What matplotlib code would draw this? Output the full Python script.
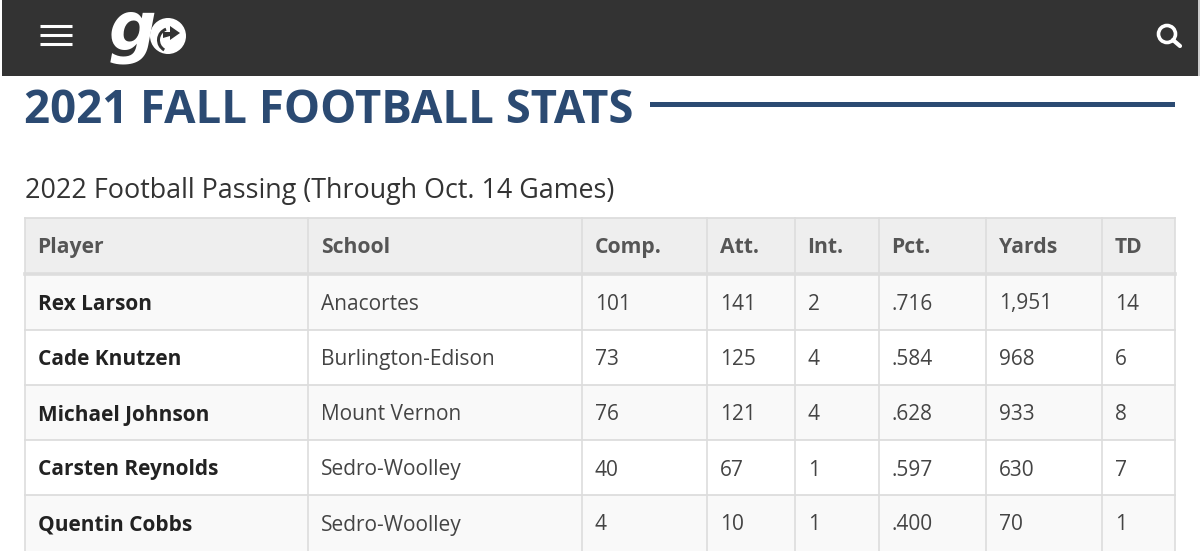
import matplotlib
matplotlib.use("Agg")
import matplotlib.pyplot as plt
from matplotlib.patches import Rectangle, Circle, Wedge, Polygon

plt.rcParams['font.family'] = ['Open Sans', 'DejaVu Sans']

headers = ["Player", "School", "Comp.", "Att.", "Int.", "Pct.", "Yards", "TD"]
players = ["Rex Larson", "Cade Knutzen", "Michael Johnson", "Carsten Reynolds", "Quentin Cobbs"]
schools = ["Anacortes", "Burlington-Edison", "Mount Vernon", "Sedro-Woolley", "Sedro-Woolley"]
comp = ["101", "73", "76", "40", "4"]
att = ["141", "125", "121", "67", "10"]
ints = ["2", "4", "4", "1", "1"]
pct = [".716", ".584", ".628", ".597", ".400"]
yards = ["1,951", "968", "933", "630", "70"]
td = ["14", "6", "8", "7", "1"]
title = "2021 FALL FOOTBALL STATS"
subtitle = "2022 Football Passing (Through Oct. 14 Games)"

col_x = [25, 308, 582, 707, 795, 879, 986, 1102, 1175]
row_y = [218, 274, 330, 385, 440, 495, 551]

fig = plt.figure(figsize=(12, 5.51), dpi=100)
ax = fig.add_axes([0, 0, 1, 1])
ax.set_xlim(0, 1200)
ax.set_ylim(551, 0)
ax.axis("off")

# Top bar
ax.add_patch(Rectangle((2, 0), 1196, 76, fc="#333333", ec="none"))
ax.add_patch(Rectangle((1198, 0), 2, 76, fc="#cccccc", ec="none"))
for y in (26, 35, 44):
    ax.plot([40, 72], [y, y], color="white", lw=2.2, solid_capstyle="butt")
ax.text(109, 50, "g", color="white", fontsize=48, fontweight="bold", style="italic",
        family="DejaVu Sans", va="baseline", ha="left")
ax.add_patch(Circle((168, 36), 18, fc="white", ec="none"))
ax.add_patch(Wedge((170, 40), 13, 120, 250, width=3, fc="#333333", ec="none"))
ax.add_patch(Polygon([(163, 32), (170, 32), (170, 26), (180, 33), (170, 40), (170, 36), (163, 38)],
                     fc="#333333", ec="none"))
# Search icon
ax.add_patch(Circle((1167, 34), 8.5, fc="none", ec="white", lw=2.6))
ax.plot([1173, 1180], [40, 46], color="white", lw=3, solid_capstyle="round")

# Title
ax.text(24, 122.7, title, color="#2b4a72", fontsize=32.8, fontweight="bold", va="baseline", ha="left")
ax.add_patch(Rectangle((650, 102), 525, 5, fc="#2b4a72", ec="none"))
ax.text(25, 198, subtitle, color="#333333", fontsize=19.35, va="baseline", ha="left")

# Table fills
ax.add_patch(Rectangle((col_x[0], row_y[0]), col_x[-1] - col_x[0], row_y[1] - row_y[0], fc="#eeeeee", ec="none"))
for r in range(5):
    fc = "#f9f9f9" if r % 2 == 0 else "white"
    ax.add_patch(Rectangle((col_x[0], row_y[r + 1]), col_x[-1] - col_x[0], row_y[r + 2] - row_y[r + 1], fc=fc, ec="none"))

# Grid
for x in col_x:
    ax.plot([x, x], [row_y[0], row_y[-1]], color="#dddddd", lw=1.2)
for i, y in enumerate(row_y[:-1]):
    ax.plot([col_x[0], col_x[-1]], [y, y], color="#dddddd", lw=2.6 if i == 1 else 1.3)

# Header text
pad = 12.6
for x, h in zip(col_x, headers):
    ax.text(x + pad, 253, h, color="#555555", fontsize=15.2, fontweight="bold", va="baseline", ha="left")

# Body
columns = [players, schools, comp, att, ints, pct, yards, td]
text_y = [309.5, 365, 420.5, 475.5, 530.5]
for c, vals in enumerate(columns):
    for r, v in enumerate(vals):
        ax.text(col_x[c] + pad, text_y[r], v, color="#222222" if c == 0 else "#444444",
                fontsize=15.05, fontweight="bold" if c == 0 else "normal", va="baseline", ha="left")

fig.savefig("out.png", dpi=100)
